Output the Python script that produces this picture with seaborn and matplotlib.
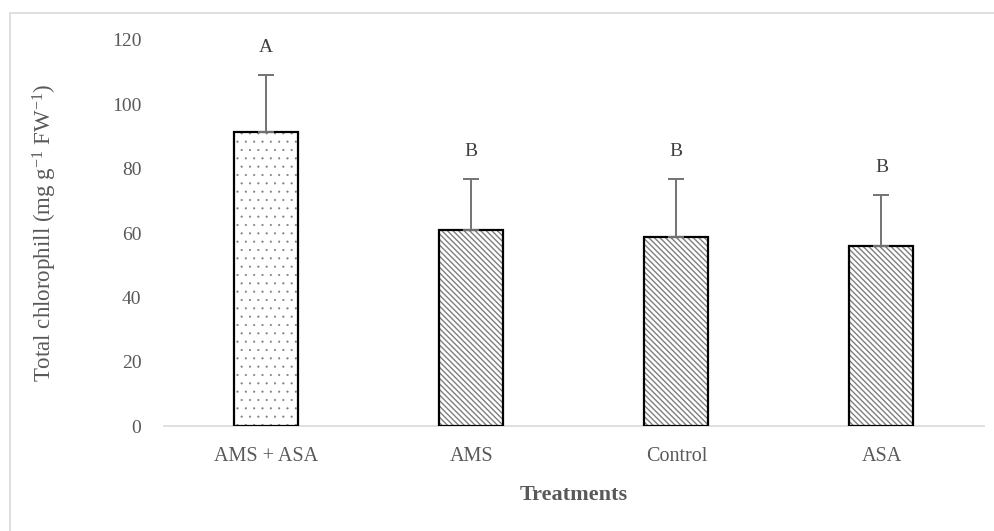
import matplotlib
matplotlib.use("Agg")
import matplotlib.pyplot as plt
import seaborn as sns
import pandas as pd
from matplotlib.patches import Rectangle

# Mean total chlorophyll per treatment, upper standard deviation, group letters
treatments = ["AMS + ASA", "AMS", "Control", "ASA"]
means = [91.5, 61.0, 58.7, 55.9]
errors = [17.7, 15.7, 18.0, 15.9]
letters = ["A", "B", "B", "B"]
y_ticks = [0, 20, 40, 60, 80, 100, 120]

df = pd.DataFrame({"Treatment": treatments, "Chlorophyll": means})

sns.set_theme(style="white")
plt.rcParams["font.family"] = ["Liberation Serif", "DejaVu Serif"]
plt.rcParams["mathtext.fontset"] = "custom"
plt.rcParams["mathtext.rm"] = "Liberation Serif"
plt.rcParams["mathtext.it"] = "Liberation Serif:italic"
plt.rcParams["mathtext.bf"] = "Liberation Serif:bold"
plt.rcParams["hatch.linewidth"] = 1.0

text_color = "#595959"
hatch_gray = "#7f7f7f"

fig = plt.figure(figsize=(9.94, 5.31), dpi=100)
ax = fig.add_axes([0.1645, 0.1977, 0.8255, 0.7270])

# hatched fill layer
sns.barplot(data=df, x="Treatment", y="Chlorophyll", order=treatments,
            width=0.312, color="white", edgecolor=hatch_gray, linewidth=0,
            saturation=1, errorbar=None, ax=ax)
hatches = ["..", "\\" * 6, "\\" * 6, "\\" * 6]
for patch, h in zip(ax.patches, hatches):
    patch.set_hatch(h)
    if h.startswith(".") and hasattr(patch, "set_hatch_linewidth"):
        patch.set_hatch_linewidth(0.3)

# black outline on top of each bar
for patch in list(ax.patches):
    ax.add_patch(Rectangle(patch.get_xy(), patch.get_width(), patch.get_height(),
                           fill=False, edgecolor="black", linewidth=1.6, zorder=3))

# upper error bars
xpos = range(len(treatments))
ax.errorbar(xpos, means, yerr=[[0] * len(errors), errors], fmt="none",
            ecolor="#737373", elinewidth=1.4, capsize=6, capthick=1.4, zorder=4)

# significance letters
for x, m, e, t in zip(xpos, means, errors, letters):
    ax.text(x, m + e + 8.5, t, ha="center", va="center",
            fontsize=14, color="#404040")

ax.set_ylim(0, 120)
ax.set_xlim(-0.5, len(treatments) - 0.5)
ax.set_yticks(y_ticks)
ax.tick_params(axis="y", length=0, pad=16, labelsize=14, labelcolor=text_color)
ax.tick_params(axis="x", length=0, pad=15, labelsize=14.5, labelcolor=text_color)

for side in ["top", "right", "left"]:
    ax.spines[side].set_visible(False)
ax.spines["bottom"].set_color("#d9d9d9")
ax.spines["bottom"].set_linewidth(1.2)
ax.grid(False)

ax.set_xlabel("Treatments", fontsize=16, fontweight="bold",
              color=text_color, labelpad=14)
ax.set_ylabel("Total chlorophill (mg g$^{-1}$ FW$^{-1}$)", fontsize=16.5,
              color=text_color, labelpad=38)

# thin frame around the chart area
fig.add_artist(Rectangle((10 / 994, -0.05), 1.2, (531 - 13) / 531 + 0.05,
                         transform=fig.transFigure, fill=False,
                         edgecolor="#d9d9d9", linewidth=1.2))

fig.savefig("out.png", dpi=100, facecolor="white")
